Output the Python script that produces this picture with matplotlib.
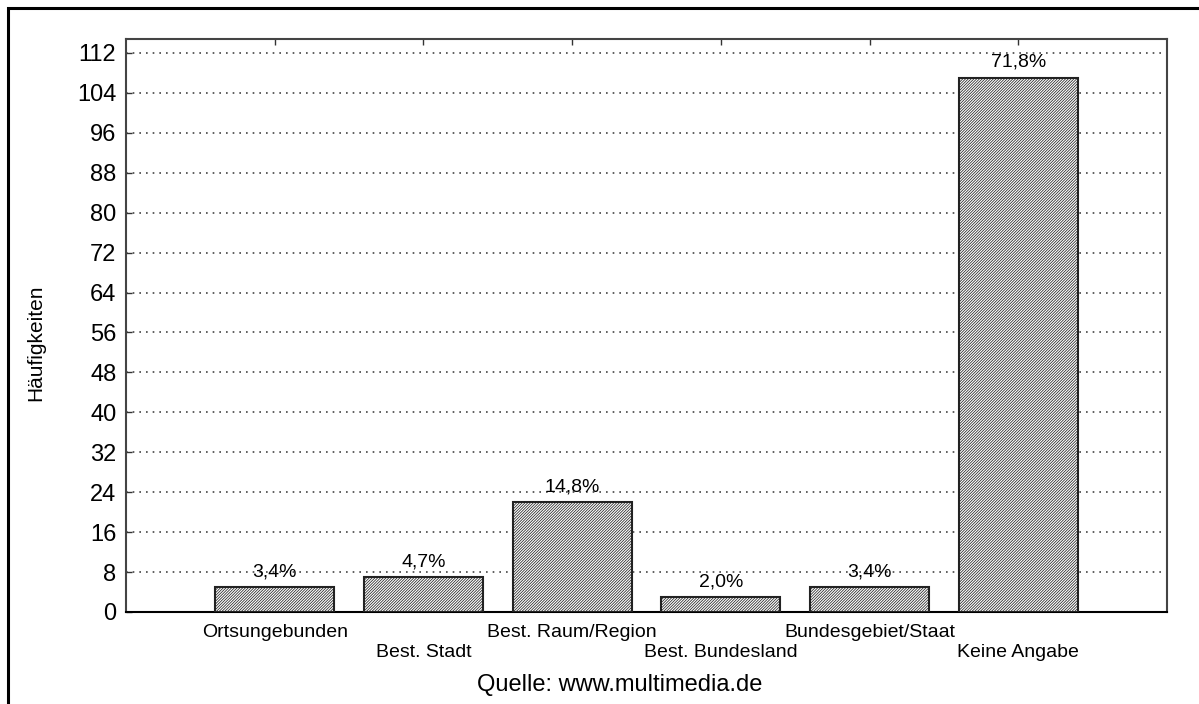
import numpy as np
import matplotlib.pyplot as plt
from matplotlib.patches import Rectangle

plt.rcParams['font.family'] = ['Liberation Sans', 'DejaVu Sans']
plt.rcParams['hatch.linewidth'] = 0.55
plt.rcParams['hatch.color'] = '#333333'

categories = ['Ortsungebunden', 'Best. Stadt', 'Best. Raum/Region',
              'Best. Bundesland', 'Bundesgebiet/Staat', 'Keine Angabe']
counts = [5, 7, 22, 3, 5, 107]
percent_labels = ['3,4%', '4,7%', '14,8%', '2,0%', '3,4%', '71,8%']
yticks = list(range(0, 113, 8))

fig = plt.figure(figsize=(11.99, 7.04), dpi=100)
ax = fig.add_axes([0.1051, 0.1307, 0.8682, 0.8139])

x = np.arange(1, len(categories) + 1)
ax.bar(x, counts, width=0.8, color='white', edgecolor='#222222',
       linewidth=1.5, hatch='/' * 12, zorder=3)

for xi, c, lab in zip(x, counts, percent_labels):
    ax.annotate(lab, (xi, c), xytext=(0, 5), textcoords='offset points',
                ha='center', va='bottom', fontsize=14, zorder=4)

ax.set_xlim(0, 7)
ax.set_ylim(0, 114.8)
ax.set_yticks(yticks)
ax.set_yticklabels([str(v) for v in yticks], fontsize=17)
ax.set_xticks(x)
ax.set_xticklabels(categories, fontsize=14)
ax.tick_params(axis='both', direction='in', length=4, width=1, color='#333333')
ax.tick_params(axis='x', top=True)
ax.tick_params(axis='y', pad=7)
for i, t in enumerate(ax.xaxis.get_major_ticks()):
    t.set_pad(9 if i % 2 == 0 else 23)

ax.grid(axis='y', linestyle=(0, (1, 3)), color='#444444', linewidth=1.2, zorder=1)
for s in ax.spines.values():
    s.set_linewidth(1.5)
    s.set_color('#444444')
ax.spines['bottom'].set_color('black')

fig.text(36 / 1199, 1 - 343 / 704, 'Häufigkeiten', rotation=90,
         ha='center', va='center', fontsize=15)
fig.text(620 / 1199, 1 - 685 / 704, 'Quelle: www.multimedia.de',
         ha='center', va='center', fontsize=17)

fig.patches.append(Rectangle((8 / 1199, -0.1), 1.2, 1.1 - 8 / 704,
                             transform=fig.transFigure, fill=False,
                             edgecolor='black', linewidth=2.2))

fig.savefig('out.png', dpi=100)
